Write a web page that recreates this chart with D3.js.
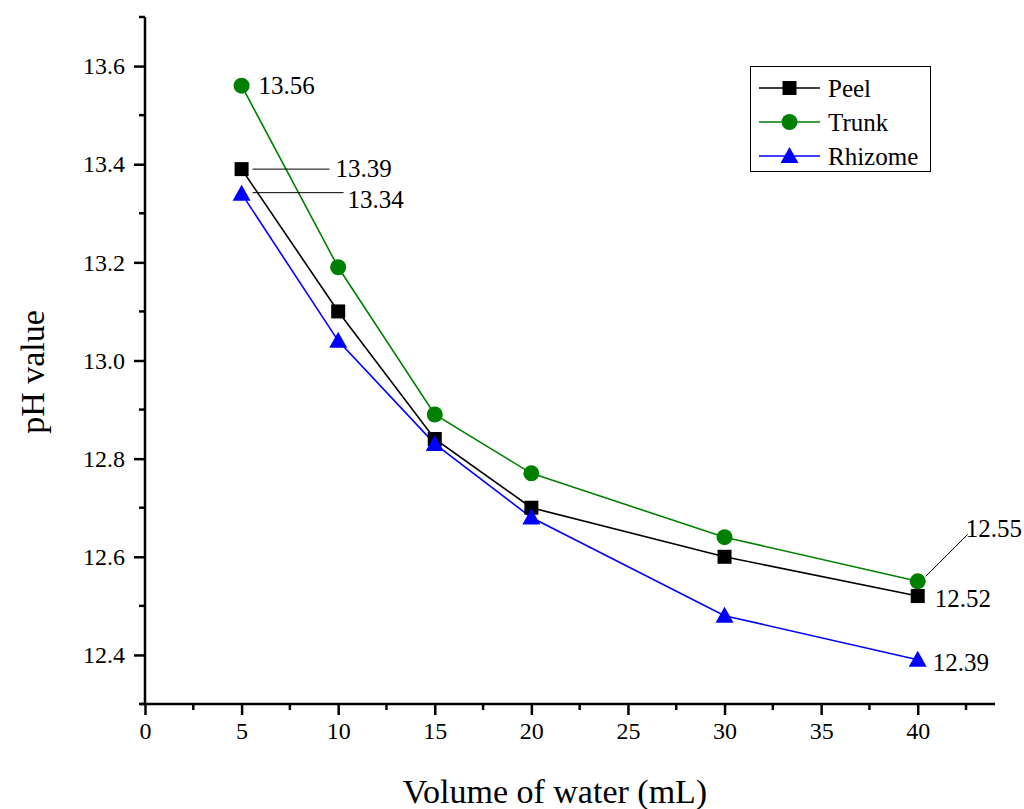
<!DOCTYPE html>
<html>
<head>
<meta charset="utf-8">
<script src="https://cdn.jsdelivr.net/npm/d3@7"></script>
<style>
  html, body { margin: 0; padding: 0; background: #fff; }
  svg { display: block; }
  svg text { font-family: "Liberation Serif", serif !important; }
</style>
</head>
<body>
<svg id="chart" width="1024" height="809"></svg>
<script>
// Volume of water added (mL)
const volumes = [5, 10, 15, 20, 30, 40];
// pH readings for each plant part
const peel    = [13.39, 13.10, 12.84, 12.70, 12.60, 12.52];
const trunk   = [13.56, 13.19, 12.89, 12.77, 12.64, 12.55];
const rhizome = [13.34, 13.04, 12.83, 12.68, 12.48, 12.39];
const seriesNames = ["Peel", "Trunk", "Rhizome"];
const xTicks = [0, 5, 10, 15, 20, 25, 30, 35, 40];
const yTicks = [12.4, 12.6, 12.8, 13.0, 13.2, 13.4, 13.6];

const series = [
  { name: seriesNames[0], values: peel,    color: "#000000", shape: "square" },
  { name: seriesNames[1], values: trunk,   color: "#008000", shape: "circle" },
  { name: seriesNames[2], values: rhizome, color: "#0000ff", shape: "triangle" }
];

const FONT = "Liberation Serif";
const svg = d3.select("#chart");
const x = d3.scaleLinear().domain([0, 44]).range([145, 995]);
const y = d3.scaleLinear().domain([12.3, 13.7]).range([704, 17]);

// Axes
const xAxis = d3.axisBottom(x).tickValues(xTicks).tickFormat(d3.format("d")).tickSizeOuter(0).tickSize(11).tickPadding(7);
const yAxis = d3.axisLeft(y).tickValues(yTicks).tickFormat(d3.format(".1f")).tickSizeOuter(0).tickSize(11).tickPadding(9);

const gx = svg.append("g").attr("transform", `translate(0,${y(12.3)})`).call(xAxis);
const gy = svg.append("g").attr("transform", `translate(${x(0)},0)`).call(yAxis);

[gx, gy].forEach(g => {
  g.attr("font-family", FONT).attr("font-size", 24);
  g.select(".domain").attr("stroke", "#000").attr("stroke-width", 2.5);
  g.selectAll(".tick line").attr("stroke", "#000").attr("stroke-width", 2.5);
  g.selectAll(".tick text").attr("fill", "#000");
});
// extend axis lines slightly past the corner
gx.select(".domain").attr("d", `M${x(0) - 4},0H${x(44)}`);
gy.select(".domain").attr("d", `M0,${y(12.3) + 1}V${y(13.7)}`);

// Minor ticks
const xMinor = d3.range(2.5, 44, 5);
gx.selectAll(".minor").data(xMinor).enter().append("line")
  .attr("x1", d => x(d)).attr("x2", d => x(d)).attr("y1", 0).attr("y2", 6)
  .attr("stroke", "#000").attr("stroke-width", 2.5);
const yMinor = [12.3, 12.5, 12.7, 12.9, 13.1, 13.3, 13.5, 13.7];
gy.selectAll(".minor").data(yMinor).enter().append("line")
  .attr("y1", d => y(d)).attr("y2", d => y(d)).attr("x1", 0).attr("x2", -6)
  .attr("stroke", "#000").attr("stroke-width", 2.5);

// Axis titles
svg.append("text").attr("x", 555).attr("y", 803).attr("text-anchor", "middle")
  .attr("font-family", FONT).attr("font-size", 34).text("Volume of water (mL)");
svg.append("text").attr("transform", `translate(44,372) rotate(-90)`).attr("text-anchor", "middle")
  .attr("font-family", FONT).attr("font-size", 34).text("pH value");

// Lines
const line = d3.line().x((d, i) => x(volumes[i])).y(d => y(d));
series.forEach(s => {
  svg.append("path").datum(s.values).attr("d", line)
    .attr("fill", "none").attr("stroke", s.color).attr("stroke-width", 1.6);
});

// Marker drawing
function marker(g, shape, color, cx, cy) {
  if (shape === "square") {
    g.append("rect").attr("x", cx - 7).attr("y", cy - 7).attr("width", 14).attr("height", 14).attr("fill", color);
  } else if (shape === "circle") {
    g.append("circle").attr("cx", cx).attr("cy", cy).attr("r", 8).attr("fill", color);
  } else {
    g.append("path").attr("d", `M${cx},${cy - 9}L${cx + 9},${cy + 7}L${cx - 9},${cy + 7}Z`).attr("fill", color);
  }
}
series.forEach(s => {
  const g = svg.append("g");
  s.values.forEach((v, i) => marker(g, s.shape, s.color, x(volumes[i]), y(v)));
});

// Value annotations
const fmt = d3.format(".2f");
const labelStyle = sel => sel.attr("font-family", FONT).attr("font-size", 25).attr("fill", "#000");
// Trunk at 5 mL
svg.append("text").attr("x", x(5) + 17).attr("y", y(trunk[0]) + 8).call(labelStyle).text(fmt(trunk[0]));
// Peel at 5 mL with leader line
svg.append("line").attr("x1", x(5) + 11).attr("x2", x(5) + 88).attr("y1", y(peel[0])).attr("y2", y(peel[0]))
  .attr("stroke", "#000").attr("stroke-width", 1);
svg.append("text").attr("x", x(5) + 94).attr("y", y(peel[0]) + 8).call(labelStyle).text(fmt(peel[0]));
// Rhizome at 5 mL with leader line
svg.append("line").attr("x1", x(5) + 11).attr("x2", x(5) + 102).attr("y1", y(rhizome[0]) - 1).attr("y2", y(rhizome[0]) - 1)
  .attr("stroke", "#000").attr("stroke-width", 1);
svg.append("text").attr("x", x(5) + 106).attr("y", y(rhizome[0]) + 14).call(labelStyle).text(fmt(rhizome[0]));
// Trunk at 40 mL with diagonal leader
svg.append("line").attr("x1", x(40) + 8).attr("y1", y(trunk[5]) - 5).attr("x2", x(40) + 50).attr("y2", y(trunk[5]) - 47)
  .attr("stroke", "#000").attr("stroke-width", 1);
svg.append("text").attr("x", x(40) + 48).attr("y", y(trunk[5]) - 44).call(labelStyle).text(fmt(trunk[5]));
// Peel and Rhizome at 40 mL
svg.append("text").attr("x", x(40) + 17).attr("y", y(peel[5]) + 11).call(labelStyle).text(fmt(peel[5]));
svg.append("text").attr("x", x(40) + 15).attr("y", y(rhizome[5]) + 11).call(labelStyle).text(fmt(rhizome[5]));

// Legend
const legend = svg.append("g");
legend.append("rect").attr("x", 750.5).attr("y", 66.5).attr("width", 180).attr("height", 105)
  .attr("fill", "#fff").attr("stroke", "#000").attr("stroke-width", 1);
series.forEach((s, i) => {
  const ly = 88 + i * 34;
  legend.append("line").attr("x1", 759).attr("x2", 820).attr("y1", ly).attr("y2", ly)
    .attr("stroke", s.color).attr("stroke-width", 1.6);
  marker(legend, s.shape, s.color, 789.5, ly);
  legend.append("text").attr("x", 828).attr("y", ly + 9).attr("font-family", FONT).attr("font-size", 25).text(s.name);
});
</script>
</body>
</html>
